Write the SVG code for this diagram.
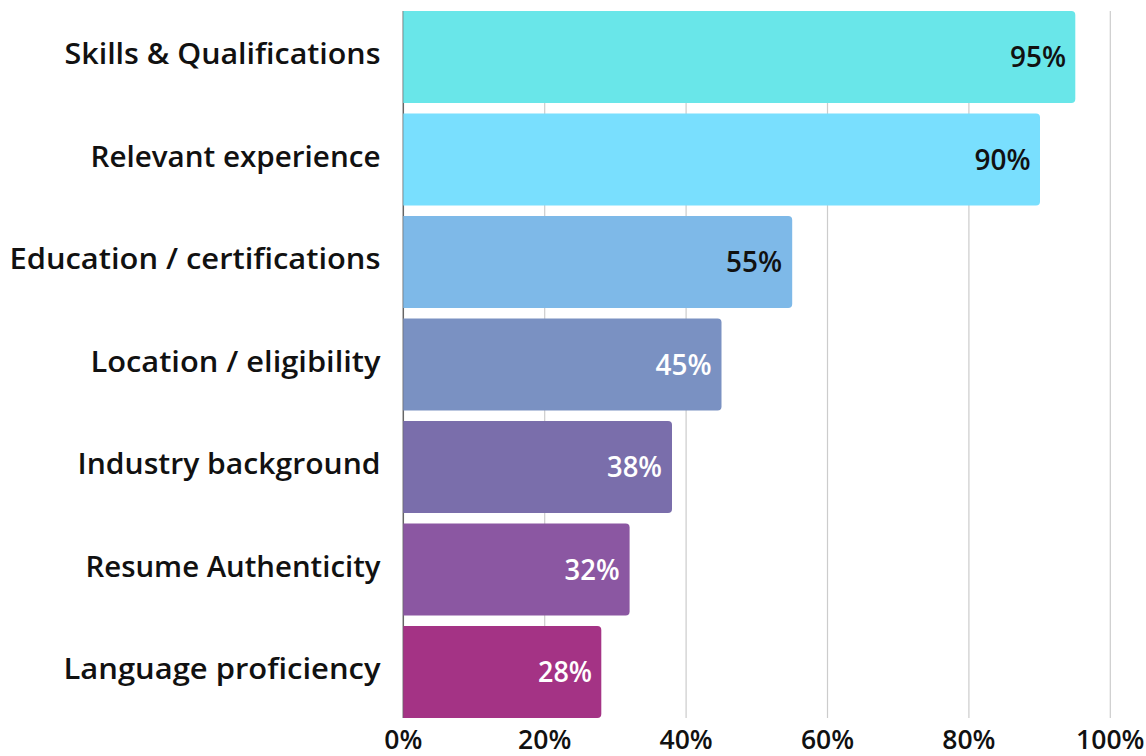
<svg xmlns="http://www.w3.org/2000/svg" width="1146" height="756" viewBox="0 0 1146 756">
<style>
.grid{stroke:#cccccc;stroke-width:1.2}
.axis{stroke:#666666;stroke-width:1.5}
.cat{font-family:"Open Sans","Liberation Sans",sans-serif;font-weight:600;font-size:28.5px;fill:#111111;text-anchor:end}
.val{font-family:"Open Sans","Liberation Sans",sans-serif;font-weight:600;font-size:28.5px;text-anchor:end}
.dark{fill:#111111}
.light{fill:#ffffff}
.tick{font-family:"Open Sans","Liberation Sans",sans-serif;font-weight:600;font-size:26.5px;fill:#111111;text-anchor:middle}
</style>
<rect width="1146" height="756" fill="#ffffff"/>
<g id="gridlines">
<line class="grid" x1="544.7" y1="11" x2="544.7" y2="718"/>
<line class="grid" x1="686.1" y1="11" x2="686.1" y2="718"/>
<line class="grid" x1="827.5" y1="11" x2="827.5" y2="718"/>
<line class="grid" x1="968.9" y1="11" x2="968.9" y2="718"/>
<line class="grid" x1="1110.3" y1="11" x2="1110.3" y2="718"/>
<line class="axis" x1="403.3" y1="11" x2="403.3" y2="718"/>
</g>
<g id="bar1">
<path d="M403.3 11H1071.3Q1075.3 11 1075.3 15V99Q1075.3 103 1071.3 103H403.3Z" fill="#69E6E9"/>
<text class="cat" x="380.5" y="64.3" textLength="316" lengthAdjust="spacingAndGlyphs">Skills &amp; Qualifications</text>
<text class="val dark" x="1066" y="67" textLength="56" lengthAdjust="spacingAndGlyphs">95%</text>
</g>
<g id="bar2">
<path d="M403.3 113.5H1036Q1040 113.5 1040 117.5V201.5Q1040 205.5 1036 205.5H403.3Z" fill="#79DFFE"/>
<text class="cat" x="380.5" y="166.8" textLength="290" lengthAdjust="spacingAndGlyphs">Relevant experience</text>
<text class="val dark" x="1030.5" y="169.5" textLength="56" lengthAdjust="spacingAndGlyphs">90%</text>
</g>
<g id="bar3">
<path d="M403.3 216H788.2Q792.2 216 792.2 220V304Q792.2 308 788.2 308H403.3Z" fill="#7EB9E8"/>
<text class="cat" x="380.5" y="269.3" textLength="371" lengthAdjust="spacingAndGlyphs">Education / certifications</text>
<text class="val dark" x="782" y="272" textLength="56" lengthAdjust="spacingAndGlyphs">55%</text>
</g>
<g id="bar4">
<path d="M403.3 318.5H717.5Q721.5 318.5 721.5 322.5V406.5Q721.5 410.5 717.5 410.5H403.3Z" fill="#7A91C2"/>
<text class="cat" x="380.5" y="371.8" textLength="290" lengthAdjust="spacingAndGlyphs">Location / eligibility</text>
<text class="val light" x="711.5" y="374.5" textLength="56" lengthAdjust="spacingAndGlyphs">45%</text>
</g>
<g id="bar5">
<path d="M403.3 421H668Q672 421 672 425V509Q672 513 668 513H403.3Z" fill="#7A6EAB"/>
<text class="cat" x="380.5" y="474.3" textLength="303" lengthAdjust="spacingAndGlyphs">Industry background</text>
<text class="val light" x="662" y="477" textLength="55" lengthAdjust="spacingAndGlyphs">38%</text>
</g>
<g id="bar6">
<path d="M403.3 523.5H625.6Q629.6 523.5 629.6 527.5V611.5Q629.6 615.5 625.6 615.5H403.3Z" fill="#8B57A2"/>
<text class="cat" x="380.5" y="576.8" textLength="295" lengthAdjust="spacingAndGlyphs">Resume Authenticity</text>
<text class="val light" x="619.6" y="579.5" textLength="55" lengthAdjust="spacingAndGlyphs">32%</text>
</g>
<g id="bar7">
<path d="M403.3 626H597.3Q601.3 626 601.3 630V714Q601.3 718 597.3 718H403.3Z" fill="#A43385"/>
<text class="cat" x="380.5" y="679.3" textLength="317" lengthAdjust="spacingAndGlyphs">Language proficiency</text>
<text class="val light" x="592" y="682" textLength="54" lengthAdjust="spacingAndGlyphs">28%</text>
</g>
<g id="x-axis-labels">
<text class="tick" x="403.3" y="749">0%</text>
<text class="tick" x="544.7" y="749">20%</text>
<text class="tick" x="686.1" y="749">40%</text>
<text class="tick" x="827.5" y="749">60%</text>
<text class="tick" x="968.9" y="749">80%</text>
<text class="tick" x="1110.3" y="749">100%</text>
</g>
</svg>
